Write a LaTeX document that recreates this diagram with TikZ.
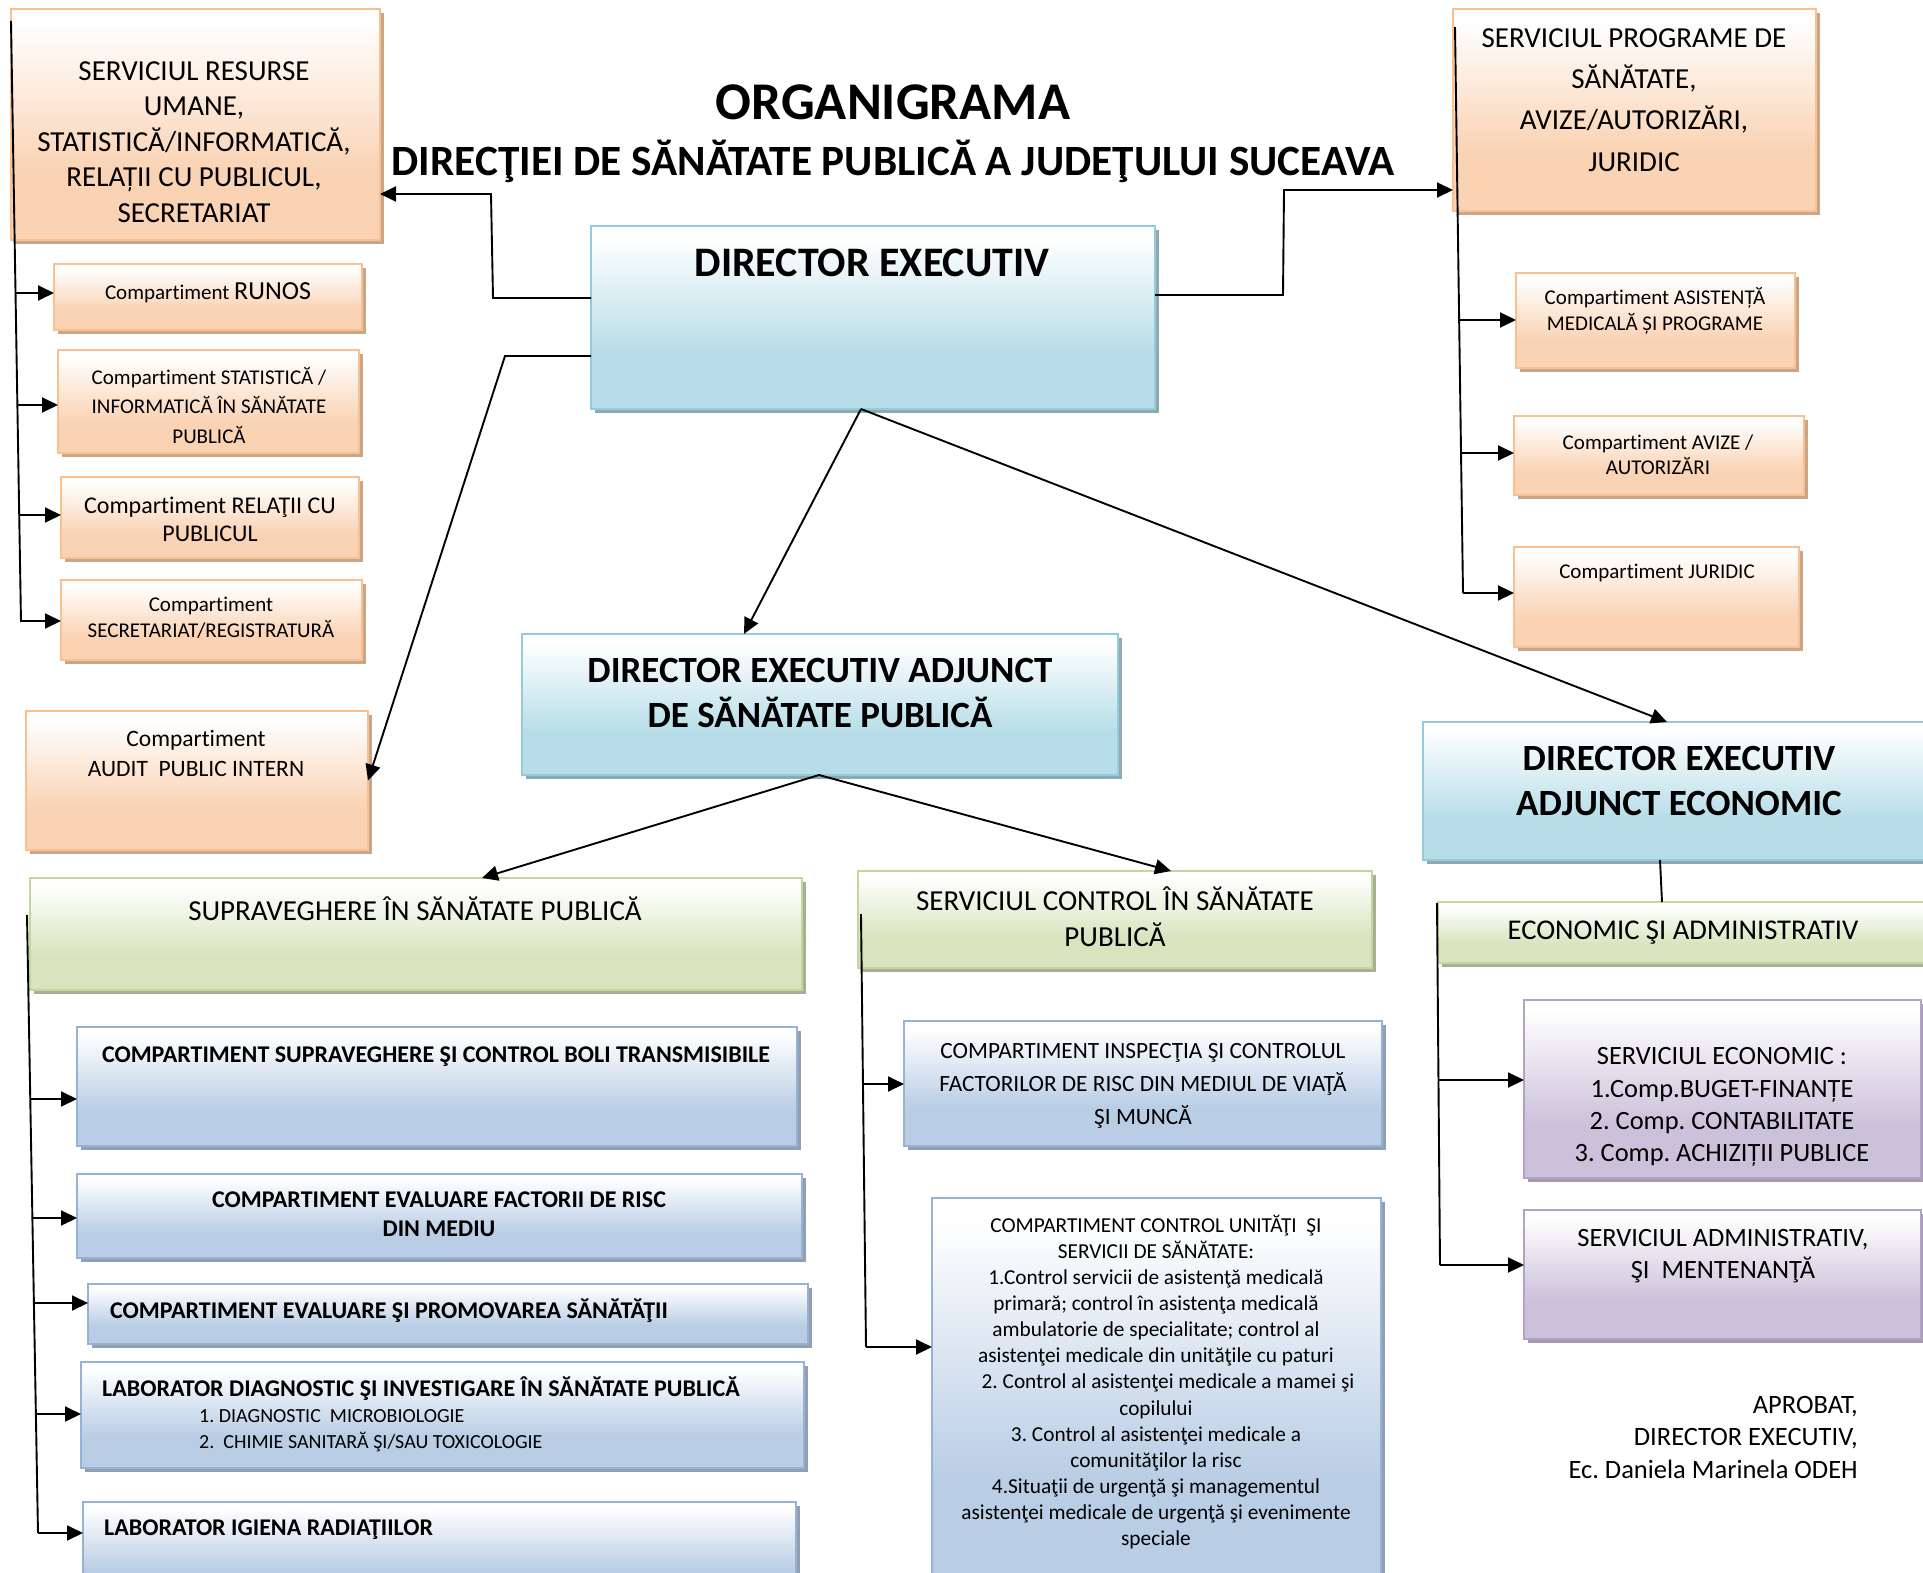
\documentclass[tikz,border=0pt]{standalone}
\usepackage{fontspec}
\setmainfont{Carlito}[Ligatures=NoCommon]
\usetikzlibrary{arrows.meta,shadows,fit}
\definecolor{orline}{HTML}{FAC08F}
\definecolor{orfill}{HTML}{FAD3B4}
\definecolor{orshad}{HTML}{CBA587}
\definecolor{blline}{HTML}{93CDDD}
\definecolor{blfill}{HTML}{B7DDE8}
\definecolor{blshad}{HTML}{8FA8B2}
\definecolor{stline}{HTML}{95B3D7}
\definecolor{stfill}{HTML}{B9CDE5}
\definecolor{stshad}{HTML}{929FB0}
\definecolor{grline}{HTML}{C3D69B}
\definecolor{grfill}{HTML}{D7E4BD}
\definecolor{grshad}{HTML}{A7B094}
\definecolor{puline}{HTML}{B3A2C7}
\definecolor{pufill}{HTML}{CCC1DA}
\definecolor{pushad}{HTML}{A39BAD}
\pgfdeclareverticalshading{orsh}{100bp}{color(0bp)=(orfill); color(25bp)=(orfill); color(40bp)=(orfill); color(72bp)=(white); color(100bp)=(white)}
\pgfdeclareverticalshading{blsh}{100bp}{color(0bp)=(blfill); color(25bp)=(blfill); color(40bp)=(blfill); color(72bp)=(white); color(100bp)=(white)}
\pgfdeclareverticalshading{stsh}{100bp}{color(0bp)=(stfill); color(25bp)=(stfill); color(40bp)=(stfill); color(72bp)=(white); color(100bp)=(white)}
\pgfdeclareverticalshading{grsh}{100bp}{color(0bp)=(grfill); color(25bp)=(grfill); color(40bp)=(grfill); color(72bp)=(white); color(100bp)=(white)}
\pgfdeclareverticalshading{push}{100bp}{color(0bp)=(pufill); color(25bp)=(pufill); color(40bp)=(pufill); color(72bp)=(white); color(100bp)=(white)}
\newcommand\fsz[2]{\fontsize{#1}{#2}\selectfont}
\tikzset{
  box/.style={inner sep=0pt, outer sep=0pt, line width=1.6pt, shade},
  obox/.style={box, draw=orline, shading=orsh, drop shadow={shadow xshift=4pt, shadow yshift=-4pt, fill=orshad, opacity=1}},
  bbox/.style={box, draw=blline, shading=blsh, drop shadow={shadow xshift=4pt, shadow yshift=-4pt, fill=blshad, opacity=1}},
  sbox/.style={box, draw=stline, shading=stsh, drop shadow={shadow xshift=4pt, shadow yshift=-4pt, fill=stshad, opacity=1}},
  gbox/.style={box, draw=grline, shading=grsh, drop shadow={shadow xshift=4pt, shadow yshift=-4pt, fill=grshad, opacity=1}},
  pbox/.style={box, draw=puline, shading=push, drop shadow={shadow xshift=4pt, shadow yshift=-4pt, fill=pushad, opacity=1}},
  con/.style={line width=1.9pt, black},
  arr/.style={con, -{Triangle[length=16pt,width=15pt]}},
  txt/.style={inner sep=0pt, align=center, text=black},
}
\begin{document}
\frenchspacing
\begin{tikzpicture}[x=1pt,y=-1pt]
\useasboundingbox (0,0) rectangle (1923,1573);
\fill[white] (0,0) rectangle (1923,1573);

% ---------- boxes ----------
\node[obox, fit={(11,9) (380,240)}] (sru) {};
\node[obox, fit={(54,264) (362,330)}] (runos) {};
\node[obox, fit={(58,350) (359,453)}] (stat) {};
\node[obox, fit={(61,477) (359,558)}] (rel) {};
\node[obox, fit={(61,580) (362,660)}] (secr) {};
\node[obox, fit={(26,711) (368,850)}] (audit) {};
\node[bbox, fit={(591,226) (1155,409)}] (de) {};
\node[obox, fit={(1453,9) (1816,211)}] (spr) {};
\node[obox, fit={(1516,273) (1795,368)}] (asis) {};
\node[obox, fit={(1514,416) (1804,495)}] (aviz) {};
\node[obox, fit={(1514,547) (1799,647)}] (jur) {};
\node[bbox, fit={(522,634) (1118,775)}] (dea) {};
\node[bbox, fit={(1423,722) (1935,860)}] (dee) {};
\node[gbox, fit={(30,878) (802,990)}] (sup) {};
\node[gbox, fit={(858,871) (1372,968)}] (scsp) {};
\node[gbox, fit={(1438,902) (1935,963)}] (ea) {};
\node[sbox, fit={(77,1027) (797,1146)}] (csb) {};
\node[sbox, fit={(77,1174) (802,1258)}] (cefr) {};
\node[sbox, fit={(88,1284) (808,1344)}] (ceps) {};
\node[sbox, fit={(81,1362) (804,1468)}] (ldi) {};
\node[sbox, fit={(83,1502) (796,1600)}] (lir) {};
\node[sbox, fit={(904,1021) (1382,1146)}] (cic) {};
\node[sbox, fit={(932,1198) (1381,1600)}] (ccu) {};
\node[pbox, fit={(1524,1000) (1921,1178)}] (se) {};
\node[pbox, fit={(1524,1210) (1921,1339)}] (sa) {};

% ---------- texts ----------
\node[txt, font=\bfseries\fsz{53}{64}] (title1) at (893,102) {ORGANIGRAMA};
\node[txt, font=\bfseries\fsz{43.2}{51}] (title2) at (893,161) {DIRECŢIEI DE SĂNĂTATE PUBLICĂ A JUDEŢULUI SUCEAVA};

\node[txt, font=\fsz{29}{35.5}] (t-sru) at (194,142) {SERVICIUL RESURSE\\UMANE,\\STATISTICĂ/INFORMATICĂ,\\RELAȚII CU PUBLICUL,\\SECRETARIAT};
\node[txt] (t-runos) at (208,293) {\fsz{21}{26}Compartiment \fsz{26}{31}RUNOS};
\node[txt, font=\fsz{21}{29.5}] (t-stat) at (209,405.5) {Compartiment STATISTICĂ /\\INFORMATICĂ ÎN SĂNĂTATE\\PUBLICĂ};
\node[txt, font=\fsz{24}{28}] (t-rel) at (210,519) {Compartiment RELAŢII CU\\PUBLICUL};
\node[txt, font=\fsz{21}{25.5}] (t-secr) at (211,617.5) {Compartiment\\SECRETARIAT/REGISTRATURĂ};
\node[txt, font=\fsz{23.5}{30}] (t-audit) at (196,753) {Compartiment\\AUDIT\ \ PUBLIC INTERN};

\node[txt, font=\bfseries\fsz{42}{50}] (t-de) at (872,263) {DIRECTOR EXECUTIV};

\node[txt, font=\fsz{29}{41.3}] (t-spr) at (1634,100) {SERVICIUL PROGRAME DE\\SĂNĂTATE,\\AVIZE/AUTORIZĂRI,\\JURIDIC};
\node[txt, font=\fsz{21}{26}] (t-asis) at (1655,311) {Compartiment ASISTENȚĂ\\MEDICALĂ ȘI PROGRAME};
\node[txt, font=\fsz{21}{25}] (t-aviz) at (1658,454.5) {Compartiment AVIZE /\\AUTORIZĂRI};
\node[txt, font=\fsz{21}{26}] (t-jur) at (1657,573) {Compartiment JURIDIC};

\node[txt, font=\bfseries\fsz{37}{45}] (t-dea) at (820,692.5) {DIRECTOR EXECUTIV ADJUNCT\\DE SĂNĂTATE PUBLICĂ};
\node[txt, font=\bfseries\fsz{37}{45}] (t-dee) at (1679,780.5) {DIRECTOR EXECUTIV\\ADJUNCT ECONOMIC};

\node[txt, font=\fsz{29}{35}] (t-sup) at (415,909) {SUPRAVEGHERE ÎN SĂNĂTATE PUBLICĂ};
\node[txt, font=\fsz{29}{36}] (t-scsp) at (1115,917) {SERVICIUL CONTROL ÎN SĂNĂTATE\\PUBLICĂ};
\node[txt, font=\fsz{28.6}{35}] (t-ea) at (1683,933) {ECONOMIC ŞI ADMINISTRATIV};

\node[txt, font=\bfseries\fsz{24}{29}] (t-csb) at (436,1057) {COMPARTIMENT SUPRAVEGHERE ŞI CONTROL BOLI TRANSMISIBILE};
\node[txt, font=\bfseries\fsz{24}{29}] (t-cefr) at (439,1214.5) {COMPARTIMENT EVALUARE FACTORII DE RISC\\DIN MEDIU};
\node[txt, anchor=west, font=\bfseries\fsz{24}{29}] (t-ceps) at (110,1311) {COMPARTIMENT EVALUARE ŞI PROMOVAREA SĂNĂTĂŢII};
\node[txt, anchor=west, font=\bfseries\fsz{24}{29}] (t-ldi) at (102,1389) {LABORATOR DIAGNOSTIC ŞI INVESTIGARE ÎN SĂNĂTATE PUBLICĂ};
\node[txt, anchor=west, align=left, font=\fsz{20}{26}] (t-ldi2) at (199,1431) {1. DIAGNOSTIC\ \ MICROBIOLOGIE\\2.\ \ CHIMIE SANITARĂ ŞI/SAU TOXICOLOGIE};
\node[txt, anchor=west, font=\bfseries\fsz{24}{29}] (t-lir) at (104,1530) {LABORATOR IGIENA RADIAŢIILOR};

\node[txt, font=\fsz{23.3}{33}] (t-cic) at (1143,1086) {COMPARTIMENT INSPECŢIA ŞI CONTROLUL\\FACTORILOR DE RISC DIN MEDIUL DE VIAŢĂ\\ŞI MUNCĂ};
\node[txt, font=\fsz{21.3}{26.06}] (t-ccu) at (1156,1382) {COMPARTIMENT CONTROL UNITĂŢI\ \ ŞI\\SERVICII DE SĂNĂTATE:\\1.Control servicii de asistenţă medicală\\primară; control în asistenţa medicală\\ambulatorie de specialitate; control al\\asistenţei medicale din unităţile cu paturi\\\hspace*{24pt}2. Control al asistenţei medicale a mamei şi\\copilului\\3. Control al asistenţei medicale a\\comunităţilor la risc\\4.Situaţii de urgenţă şi managementul\\asistenţei medicale de urgenţă şi evenimente\\speciale};

\node[txt, font=\fsz{26.4}{32.3}] (t-se) at (1722,1107) {SERVICIUL ECONOMIC :\\1.Comp.BUGET-FINANȚE\\2. Comp. CONTABILITATE\\3. Comp. ACHIZIȚII PUBLICE};
\node[txt, font=\fsz{26.4}{32}] (t-sa) at (1723,1256) {SERVICIUL ADMINISTRATIV,\\ŞI\ \ MENTENANŢĂ};
\node[txt, anchor=east, align=right, font=\fsz{26.5}{32.5}] (t-apr) at (1858,1437) {APROBAT,\\DIRECTOR EXECUTIV,\\Ec. Daniela Marinela ODEH};

% ---------- connectors ----------
\coordinate (a1) at (493,298);
\coordinate (a2) at (491,194);
\draw[arr] (de.west |- a1) -- (a1) -- (a2) -- (a2 -| sru.east);
\coordinate (b1) at (505,356);
\draw[arr] (de.west |- b1) -- (b1) -- (audit.east);
\coordinate (c1) at (1283,295);
\coordinate (c2) at (1284,190);
\draw[arr] (de.east |- c1) -- (c1) -- (c2) -- (c2 -| spr.west);

% left bus
\coordinate (lb0) at (11,21);
\coordinate (lb1) at (21,622);
\draw[con] (lb0) -- (lb1);
\coordinate (lr1) at (15.5,293);
\coordinate (lr2) at (17.4,405);
\coordinate (lr3) at (19.2,515);
\coordinate (lr4) at (21,621);
\draw[arr] (lr1) -- (runos.west |- lr1);
\draw[arr] (lr2) -- (stat.west |- lr2);
\draw[arr] (lr3) -- (rel.west |- lr3);
\draw[arr] (lr4) -- (secr.west |- lr4);

% right bus
\coordinate (rb0) at (1455,27);
\coordinate (rb1) at (1463,593);
\draw[con] (rb0) -- (rb1);
\coordinate (rr1) at (1459,320);
\coordinate (rr2) at (1461,453);
\draw[arr] (rr1) -- (asis.west |- rr1);
\draw[arr] (rr2) -- (aviz.west |- rr2);
\draw[arr] (rb1) -- (jur.west |- rb1);

% directors
\coordinate (dd) at (861,409);
\draw[arr] (dd) -- ([xshift=222pt]dea.north west);
\draw[arr] (dd) -- ([xshift=244pt]dee.north west);
\coordinate (da) at (819,775);
\draw[arr] (da) -- ([xshift=452pt]sup.north west);
\draw[arr] (da) -- ([xshift=313pt]scsp.north west);
\draw[con] ([xshift=237pt]dee.south west) -- ([xshift=224pt]ea.north west);

% supraveghere bus
\coordinate (sb0) at (27,915);
\coordinate (sb1) at (38,1533);
\draw[con] (sb0) -- (sb1);
\coordinate (sr1) at (30.3,1099);
\coordinate (sr2) at (32.3,1218);
\coordinate (sr3) at (33.7,1303);
\coordinate (sr4) at (35.7,1414);
\draw[arr] (sr1) -- (csb.west |- sr1);
\draw[arr] (sr2) -- (cefr.west |- sr2);
\draw[arr] (sr3) -- (ceps.west |- sr3);
\draw[arr] (sr4) -- (ldi.west |- sr4);
\draw[arr] (sb1) -- (lir.west |- sb1);

% control bus
\coordinate (mb0) at (861,914);
\coordinate (mb1) at (866,1347);
\draw[con] (mb0) -- (mb1);
\coordinate (mr1) at (863,1084);
\draw[arr] (mr1) -- (cic.west |- mr1);
\draw[arr] (mb1) -- (ccu.west |- mb1);

% economic bus
\coordinate (eb0) at (1437,903);
\coordinate (eb1) at (1440,1265);
\draw[con] (eb0) -- (eb1);
\coordinate (er1) at (1439,1080);
\draw[arr] (er1) -- (se.west |- er1);
\draw[arr] (eb1) -- (sa.west |- eb1);
\end{tikzpicture}
\end{document}
